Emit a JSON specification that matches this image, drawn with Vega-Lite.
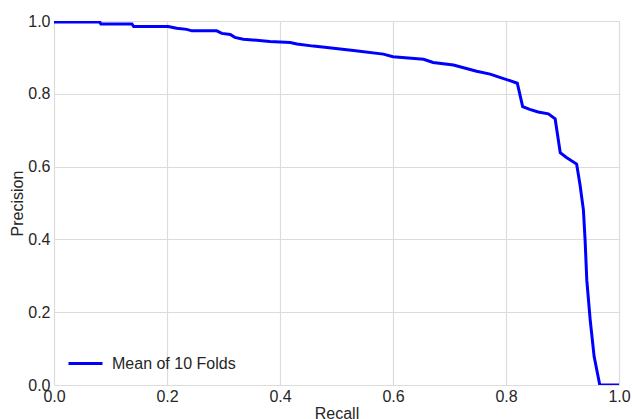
{
  "$schema": "https://vega.github.io/schema/vega-lite/v6.json",
  "width": 565,
  "height": 364,
  "autosize": "none",
  "padding": {"left": 54, "top": 21, "right": 13, "bottom": 34},
  "background": "white",
  "config": {
    "view": {"stroke": null},
    "font": "Liberation Sans",
    "axis": {
      "domain": false,
      "ticks": false,
      "labelFlush": false,
      "gridColor": "#dcdcdc",
      "gridWidth": 1.2,
      "labelFont": "Liberation Sans",
      "labelFontSize": 16,
      "labelColor": "#262626",
      "titleFont": "Liberation Sans",
      "titleFontSize": 16,
      "titleFontWeight": "normal",
      "titleColor": "#262626"
    }
  },
  "data": {
    "values": [
      {"recall": 0.0, "precision": 0.997, "series": "Mean of 10 Folds"},
      {"recall": 0.081, "precision": 0.997, "series": "Mean of 10 Folds"},
      {"recall": 0.083, "precision": 0.992, "series": "Mean of 10 Folds"},
      {"recall": 0.138, "precision": 0.992, "series": "Mean of 10 Folds"},
      {"recall": 0.141, "precision": 0.985, "series": "Mean of 10 Folds"},
      {"recall": 0.202, "precision": 0.985, "series": "Mean of 10 Folds"},
      {"recall": 0.217, "precision": 0.98, "series": "Mean of 10 Folds"},
      {"recall": 0.235, "precision": 0.977, "series": "Mean of 10 Folds"},
      {"recall": 0.244, "precision": 0.973, "series": "Mean of 10 Folds"},
      {"recall": 0.288, "precision": 0.973, "series": "Mean of 10 Folds"},
      {"recall": 0.297, "precision": 0.966, "series": "Mean of 10 Folds"},
      {"recall": 0.312, "precision": 0.963, "series": "Mean of 10 Folds"},
      {"recall": 0.32, "precision": 0.955, "series": "Mean of 10 Folds"},
      {"recall": 0.335, "precision": 0.95, "series": "Mean of 10 Folds"},
      {"recall": 0.382, "precision": 0.944, "series": "Mean of 10 Folds"},
      {"recall": 0.418, "precision": 0.941, "series": "Mean of 10 Folds"},
      {"recall": 0.43, "precision": 0.937, "series": "Mean of 10 Folds"},
      {"recall": 0.459, "precision": 0.931, "series": "Mean of 10 Folds"},
      {"recall": 0.483, "precision": 0.927, "series": "Mean of 10 Folds"},
      {"recall": 0.53, "precision": 0.919, "series": "Mean of 10 Folds"},
      {"recall": 0.583, "precision": 0.909, "series": "Mean of 10 Folds"},
      {"recall": 0.6, "precision": 0.902, "series": "Mean of 10 Folds"},
      {"recall": 0.654, "precision": 0.895, "series": "Mean of 10 Folds"},
      {"recall": 0.671, "precision": 0.886, "series": "Mean of 10 Folds"},
      {"recall": 0.707, "precision": 0.879, "series": "Mean of 10 Folds"},
      {"recall": 0.748, "precision": 0.862, "series": "Mean of 10 Folds"},
      {"recall": 0.772, "precision": 0.854, "series": "Mean of 10 Folds"},
      {"recall": 0.789, "precision": 0.845, "series": "Mean of 10 Folds"},
      {"recall": 0.807, "precision": 0.836, "series": "Mean of 10 Folds"},
      {"recall": 0.82, "precision": 0.829, "series": "Mean of 10 Folds"},
      {"recall": 0.8295, "precision": 0.765, "series": "Mean of 10 Folds"},
      {"recall": 0.842, "precision": 0.757, "series": "Mean of 10 Folds"},
      {"recall": 0.857, "precision": 0.75, "series": "Mean of 10 Folds"},
      {"recall": 0.875, "precision": 0.745, "series": "Mean of 10 Folds"},
      {"recall": 0.887, "precision": 0.731, "series": "Mean of 10 Folds"},
      {"recall": 0.896, "precision": 0.638, "series": "Mean of 10 Folds"},
      {"recall": 0.907, "precision": 0.625, "series": "Mean of 10 Folds"},
      {"recall": 0.925, "precision": 0.607, "series": "Mean of 10 Folds"},
      {"recall": 0.931, "precision": 0.55, "series": "Mean of 10 Folds"},
      {"recall": 0.937, "precision": 0.481, "series": "Mean of 10 Folds"},
      {"recall": 0.94, "precision": 0.398, "series": "Mean of 10 Folds"},
      {"recall": 0.943, "precision": 0.288, "series": "Mean of 10 Folds"},
      {"recall": 0.949, "precision": 0.179, "series": "Mean of 10 Folds"},
      {"recall": 0.956, "precision": 0.078, "series": "Mean of 10 Folds"},
      {"recall": 0.966, "precision": 0.0, "series": "Mean of 10 Folds"},
      {"recall": 1.0, "precision": 0.0, "series": "Mean of 10 Folds"}
    ]
  },
  "mark": {"type": "line", "strokeWidth": 3, "clip": true},
  "encoding": {
    "x": {
      "field": "recall", "type": "quantitative", "title": "Recall",
      "scale": {"domain": [0, 1], "nice": false},
      "axis": {"values": [0, 0.2, 0.4, 0.6, 0.8, 1.0], "format": ".1f", "labelPadding": 3, "titlePadding": 1}
    },
    "y": {
      "field": "precision", "type": "quantitative", "title": "Precision",
      "scale": {"domain": [0, 1], "nice": false},
      "axis": {"values": [0, 0.2, 0.4, 0.6, 0.8, 1.0], "format": ".1f", "labelPadding": 4, "titlePadding": 2}
    },
    "color": {
      "field": "series", "type": "nominal",
      "scale": {"range": ["#0000ff"]},
      "legend": {
        "title": null,
        "orient": "none",
        "legendX": 13,
        "legendY": 324,
        "symbolType": "stroke",
        "symbolSize": 1156,
        "symbolStrokeWidth": 3,
        "labelFontSize": 16,
        "labelColor": "#262626",
        "labelFont": "Liberation Sans",
        "labelOffset": 8,
        "padding": 0
      }
    }
  }
}
